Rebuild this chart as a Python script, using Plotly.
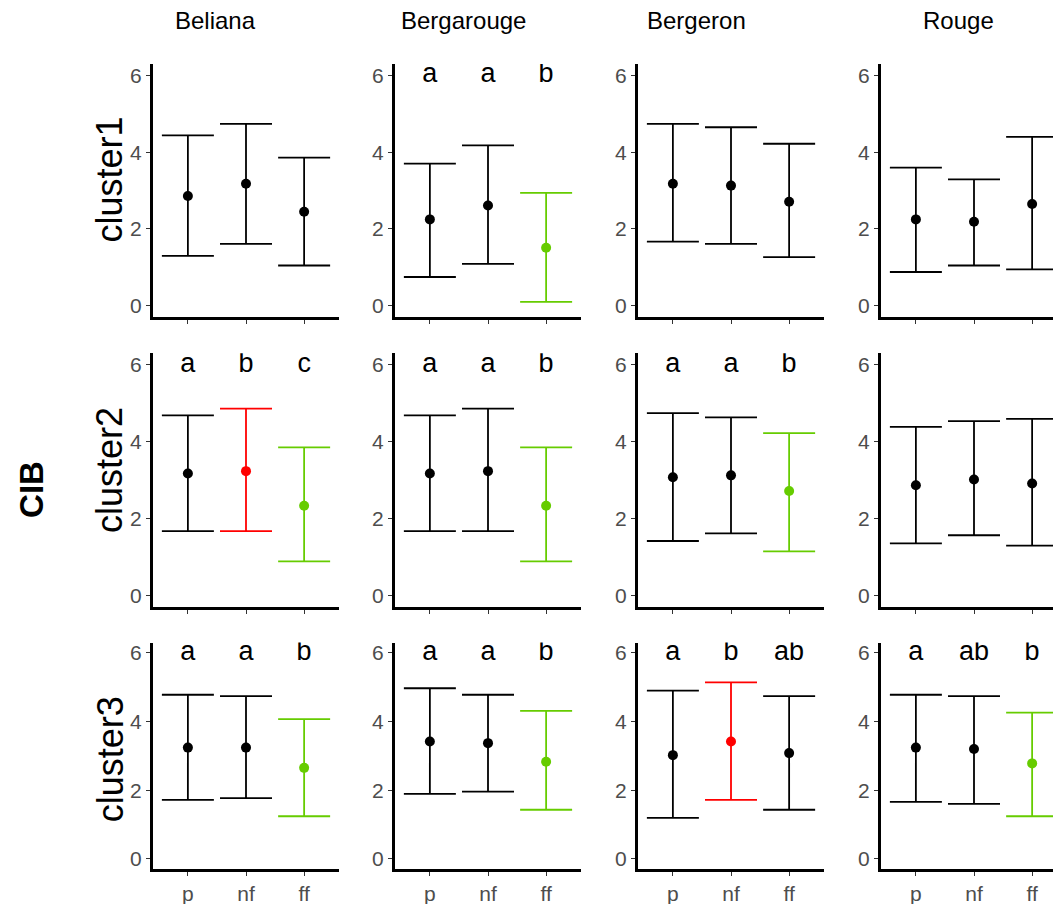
import plotly.graph_objects as go

# ---------------- data ----------------
cultivars = ["Beliana", "Bergarouge", "Bergeron", "Rouge"]
clusters = ["cluster1", "cluster2", "cluster3"]
treatments = ["p", "nf", "ff"]

# values ordered cultivar-major: Beliana p,nf,ff, Bergarouge p,nf,ff, ...
mean_c1 = [2.86, 3.18, 2.45, 2.25, 2.61, 1.51, 3.18, 3.13, 2.71, 2.25, 2.19, 2.65]
lo_c1 = [1.30, 1.61, 1.05, 0.75, 1.09, 0.10, 1.67, 1.61, 1.27, 0.88, 1.05, 0.95]
hi_c1 = [4.44, 4.74, 3.86, 3.70, 4.18, 2.94, 4.74, 4.65, 4.22, 3.60, 3.29, 4.40]
let_c1 = ["", "", "", "a", "a", "b", "", "", "", "", "", ""]
grp_c1 = ["ns", "ns", "ns", "ns", "ns", "low", "ns", "ns", "ns", "ns", "ns", "ns"]

mean_c2 = [3.17, 3.23, 2.33, 3.17, 3.23, 2.33, 3.07, 3.12, 2.71, 2.86, 3.01, 2.91]
lo_c2 = [1.67, 1.67, 0.88, 1.67, 1.67, 0.88, 1.41, 1.61, 1.14, 1.35, 1.56, 1.29]
hi_c2 = [4.68, 4.86, 3.85, 4.68, 4.86, 3.85, 4.74, 4.63, 4.22, 4.38, 4.53, 4.59]
let_c2 = ["a", "b", "c", "a", "a", "b", "a", "a", "b", "", "", ""]
grp_c2 = ["ns", "high", "low", "ns", "ns", "low", "ns", "ns", "low", "ns", "ns", "ns"]

mean_c3 = [3.24, 3.24, 2.65, 3.42, 3.37, 2.83, 3.02, 3.42, 3.08, 3.24, 3.20, 2.78]
lo_c3 = [1.72, 1.77, 1.24, 1.89, 1.96, 1.43, 1.19, 1.72, 1.43, 1.66, 1.60, 1.24]
hi_c3 = [4.78, 4.74, 4.07, 4.97, 4.78, 4.31, 4.90, 5.14, 4.74, 4.78, 4.74, 4.26]
let_c3 = ["a", "a", "b", "a", "a", "b", "a", "b", "ab", "a", "ab", "b"]
grp_c3 = ["ns", "ns", "low", "ns", "ns", "low", "ns", "high", "ns", "ns", "ns", "low"]

letter_y = 6
y_ticks = [0, 2, 4, 6]
y_title = "CIB"

# ---------------- styling / layout ----------------
colors = {"ns": "#000000", "high": "#FF0000", "low": "#66CC00"}
FONT = "Liberation Sans, Arial, sans-serif"
W, H = 1061, 904

col_px = [(145, 331), (387, 573), (630, 816), (873, 1059)]
row_px = [(55, 309), (345, 599), (635, 862)]
title_x = [207, 455, 688, 950]
title_y = 12
label_x = 102
label_y = [171, 462, 752]

means = [mean_c1, mean_c2, mean_c3]
los = [lo_c1, lo_c2, lo_c3]
his = [hi_c1, hi_c2, hi_c3]
lets = [let_c1, let_c2, let_c3]
grps = [grp_c1, grp_c2, grp_c3]

fig = go.Figure()
layout = {}
xpos = [1, 2, 3]

for r in range(3):
    for c in range(4):
        k = r * 4 + c + 1
        xa = "x" if k == 1 else f"x{k}"
        ya = "y" if k == 1 else f"y{k}"
        for t in range(3):
            i = c * 3 + t
            m = means[r][i]
            col = colors[grps[r][i]]
            fig.add_trace(go.Scatter(
                x=[xpos[t]], y=[m], mode="markers",
                marker=dict(color=col, size=10),
                error_y=dict(type="data", symmetric=False,
                             array=[his[r][i] - m], arrayminus=[m - los[r][i]],
                             color=col, thickness=1.8, width=26),
                xaxis=xa, yaxis=ya, showlegend=False, hoverinfo="skip"))
        labs = lets[r][c * 3:c * 3 + 3]
        fig.add_trace(go.Scatter(
            x=xpos, y=[letter_y] * 3, mode="text", text=labs,
            textfont=dict(size=27, color="black", family=FONT),
            textposition="middle center",
            xaxis=xa, yaxis=ya, showlegend=False, hoverinfo="skip"))

        x0, x1 = col_px[c]
        y0, y1 = row_px[r]
        xkey = "xaxis" if k == 1 else f"xaxis{k}"
        ykey = "yaxis" if k == 1 else f"yaxis{k}"
        layout[xkey] = dict(
            domain=[x0 / W, x1 / W], anchor=ya, range=[0.4, 3.6],
            tickvals=xpos, ticktext=treatments, showticklabels=(r == 2),
            ticks="outside", ticklen=4, tickwidth=1.3, tickcolor="#333333",
            showline=True, linewidth=3, linecolor="black",
            showgrid=False, zeroline=False, fixedrange=True,
            tickfont=dict(size=21, color="#4D4D4D", family=FONT))
        layout[ykey] = dict(
            domain=[1 - y1 / H, 1 - y0 / H], anchor=xa, range=[-0.3, 6.3],
            tickvals=y_ticks, ticks="outside", ticklen=4, tickwidth=1.3,
            tickcolor="#333333", showline=True, linewidth=3, linecolor="black",
            showgrid=False, zeroline=False, fixedrange=True,
            tickfont=dict(size=21, color="#4D4D4D", family=FONT))

annotations = []
for c, name in enumerate(cultivars):
    annotations.append(dict(text=name, x=title_x[c] / W, y=1 - title_y / H,
                            xref="paper", yref="paper", showarrow=False,
                            xanchor="center", yanchor="middle",
                            font=dict(size=24, color="black", family=FONT)))
for r, name in enumerate(clusters):
    annotations.append(dict(text=name, x=label_x / W, y=1 - label_y[r] / H,
                            xref="paper", yref="paper", showarrow=False,
                            textangle=-90, xanchor="center", yanchor="middle",
                            font=dict(size=36, color="black", family=FONT)))
annotations.append(dict(text="<b>" + y_title + "</b>", x=24 / W, y=1 - 482 / H,
                        xref="paper", yref="paper", showarrow=False,
                        textangle=-90, xanchor="center", yanchor="middle",
                        font=dict(size=33, color="black", family=FONT)))

fig.update_layout(**layout)
fig.update_layout(width=W, height=H, margin=dict(l=0, r=0, t=0, b=0),
                  paper_bgcolor="white", plot_bgcolor="white",
                  annotations=annotations, font=dict(family=FONT))

fig.write_html("out.html")
